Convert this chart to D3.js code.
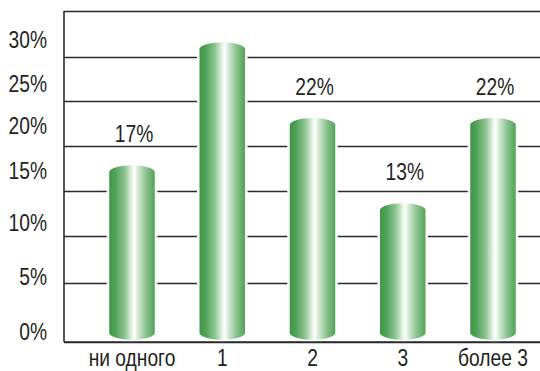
<!DOCTYPE html>
<html>
<head>
<meta charset="utf-8">
<script src="https://cdn.jsdelivr.net/npm/d3@7"></script>
<style>
body { margin: 0; background: #fff; }
text { font-family: "Liberation Sans", Arial, sans-serif; fill: #231f20; }
</style>
</head>
<body>
<script>
var categories = ['ни одного', '1', '2', '3', 'более 3'];
var values = [17, 30, 22, 13, 22];
var valueLabels = ['17%', '', '22%', '13%', '22%'];
var ticks = [0, 5, 10, 15, 20, 25, 30];
var tickLabels = ['0%', '5%', '10%', '15%', '20%', '25%', '30%'];
var gridLevels = [0, 5, 10, 15, 20, 25, 30, 35];

var width = 540, height = 371;
var left = 64, bw = 48, ry = 8;

var svg = d3.select('body')
		.append('svg')
		.attr('width', width)
		.attr('height', height);

var x = d3.scalePoint()
	.domain(categories)
	.range([132, 493]);

var y = d3.scaleLinear()
	.domain([0, 30])
	.range([333, 49]);

// the grid and the tick labels of the picture are not evenly spaced
var gridY = d3.scaleLinear()
	.domain(gridLevels)
	.range([342, 283, 236, 191, 146, 101, 57, 11]);

var labelY = d3.scaleLinear()
	.domain(ticks)
	.range([340, 285, 231, 179, 134, 92, 48]);

var grad = svg.append('defs').append('linearGradient')
		.attr('id', 'barGrad')
		.attr('x1', '0%').attr('x2', '100%')
		.attr('y1', '0%').attr('y2', '0%');

[[0, '#3a9545'], [0.15, '#4fa157'], [0.35, '#8fc593'], [0.5, '#e6f3e6'],
 [0.55, '#ffffff'], [0.62, '#d6ebd7'], [0.8, '#88c18c'], [1, '#4a9e51']]
	.forEach(function(s) {
		grad.append('stop').attr('offset', s[0]).attr('stop-color', s[1]);
	});

var grid = svg.append('g')
		.attr('transform', 'translate(' + left + ',0)')
		.call(d3.axisLeft(gridY).tickValues(gridLevels).tickSize(-(width - left)).tickFormat(''));

grid.select('.domain').remove();
grid.selectAll('line')
	.attr('stroke', '#2b2b2b')
	.attr('stroke-width', 1.6);

function barPath(d, i) {
	var cx = x(categories[i]), top = y(d), base = y(0);
	var l = cx - bw / 2, r = cx + bw / 2;
	return 'M' + l + ',' + top +
		' A' + (bw / 2) + ',' + ry + ' 0 0 1 ' + r + ',' + top +
		' L' + r + ',' + base +
		' A' + (bw / 2) + ',' + ry + ' 0 0 1 ' + l + ',' + base + ' Z';
}

svg.selectAll('path.bar')
	.data(values)
	.enter().append('path')
	.attr('class', 'bar')
	.attr('d', barPath)
	.attr('fill', 'url(#barGrad)')
	.attr('stroke', '#fff')
	.attr('stroke-width', 2.5);

// axis lines over the bars
svg.append('line')
	.attr('x1', left).attr('x2', width)
	.attr('y1', gridY(0)).attr('y2', gridY(0))
	.attr('stroke', '#2b2b2b')
	.attr('stroke-width', 1.6);

svg.append('line')
	.attr('x1', left).attr('x2', left)
	.attr('y1', gridY(35)).attr('y2', gridY(0))
	.attr('stroke', '#2b2b2b')
	.attr('stroke-width', 1.6);

function label(sel, tx, ty) {
	return sel.attr('transform', function(d, i) {
			return 'translate(' + tx(d, i) + ',' + ty(d, i) + ') scale(0.8,1)';
		})
		.attr('font-size', 24);
}

label(svg.selectAll('text.tick')
	.data(ticks)
	.enter().append('text')
	.attr('class', 'tick')
	.attr('text-anchor', 'end')
	.text(function(d, i) { return tickLabels[i]; }),
	function() { return 47; },
	function(d) { return labelY(d); });

label(svg.selectAll('text.val')
	.data(values)
	.enter().append('text')
	.attr('class', 'val')
	.attr('text-anchor', 'middle')
	.text(function(d, i) { return valueLabels[i]; }),
	function(d, i) { return x(categories[i]) + 2; },
	function(d) { return y(d) - 30; });

label(svg.selectAll('text.cat')
	.data(categories)
	.enter().append('text')
	.attr('class', 'cat')
	.attr('text-anchor', 'middle')
	.text(function(d) { return d; }),
	function(d) { return x(d); },
	function() { return 366; });
</script>
</body>
</html>
